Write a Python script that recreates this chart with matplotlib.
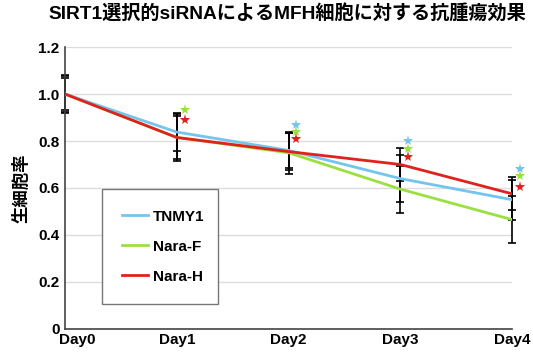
import matplotlib.pyplot as plt
import matplotlib.transforms as mtransforms

plt.rcParams['font.family'] = ['Liberation Sans', 'Noto Sans CJK JP', 'DejaVu Sans']

# data
days = ["Day0", "Day1", "Day2", "Day3", "Day4"]
x = [0, 1, 2, 3, 4]

tnmy1 = [1.0, 0.838, 0.76, 0.64, 0.55]
nara_f = [1.0, 0.815, 0.75, 0.595, 0.465]
nara_h = [1.0, 0.815, 0.755, 0.70, 0.575]

tnmy1_err = [0.075, 0.08, 0.075, 0.10, 0.085]
nara_f_err = [0.07, 0.10, 0.09, 0.10, 0.10]
nara_h_err = [0.08, 0.09, 0.08, 0.07, 0.07]

# significance stars (which series get a star at each day)
star_blue = [None, None, 0.87, 0.80, 0.68]
star_green = [None, 0.93, 0.84, 0.765, 0.65]
star_red = [None, 0.89, 0.81, 0.73, 0.605]

blue = "#74C5EE"
green = "#9BE040"
red = "#E0221E"

fig = plt.figure(figsize=(5.33, 3.54), dpi=100)
ax = fig.add_axes([0.122, 0.071, 0.839, 0.796])

for vals, err in [(tnmy1, tnmy1_err), (nara_f, nara_f_err), (nara_h, nara_h_err)]:
    eb = ax.errorbar(x, vals, yerr=err, fmt="none", ecolor="black", elinewidth=1.2,
                     capsize=3, capthick=1.2, zorder=2)
    for art in eb.get_children():
        art.set_clip_on(False)

ax.plot(x, nara_f, color=green, lw=2.0, label="Nara-F", zorder=3)
ax.plot(x, tnmy1, color=blue, lw=2.0, label="TNMY1", zorder=3)
ax.plot(x, nara_h, color=red, lw=2.0, label="Nara-H", zorder=4)

for stars, c in [(star_blue, blue), (star_green, green), (star_red, red)]:
    for xi, s in zip(x, stars):
        if s is not None:
            ax.plot(xi + 0.07, s, marker="*", color=c, ms=8, mew=0, zorder=5,
                    clip_on=False)

ax.set_xlim(0, 4)
ax.set_ylim(0, 1.2)
ax.set_yticks([0, 0.2, 0.4, 0.6, 0.8, 1.0, 1.2])
ax.set_yticklabels(["0", "0.2", "0.4", "0.6", "0.8", "1.0", "1.2"],
                   fontsize=11, fontweight="bold")
ax.set_xticks(x)
ax.set_xticklabels(days, fontsize=11, fontweight="bold")
ax.tick_params(length=0, pad=4)
ax.tick_params(axis="x", pad=3)

# Day0 label sits a bit to the right in the reference
off = mtransforms.ScaledTranslation(0.12, 0, fig.dpi_scale_trans)
lab0 = ax.get_xticklabels()[0]
lab0.set_transform(lab0.get_transform() + off)

ax.yaxis.grid(True, color="#DDDDDD", lw=1)
ax.set_axisbelow(True)
for side in ["top", "right"]:
    ax.spines[side].set_visible(False)
for side in ["left", "bottom"]:
    ax.spines[side].set_color("#444444")
    ax.spines[side].set_linewidth(1.2)

ax.set_ylabel("生細胞率", fontsize=12.5, fontweight="bold", labelpad=6)
fig.suptitle("SIRT1選択的siRNAによるMFH細胞に対する抗腫瘍効果",
             fontsize=13.8, fontweight="bold", x=0.539, y=0.99)

handles, labels = ax.get_legend_handles_labels()
order = [1, 0, 2]
leg = ax.legend([handles[i] for i in order], [labels[i] for i in order],
                loc="upper left", bbox_to_anchor=(0.191, 0.15, 0.218, 0.316),
                bbox_transform=fig.transFigure, mode="expand",
                fancybox=False, edgecolor="#777777", framealpha=1,
                prop={"weight": "bold", "size": 11}, handlelength=1.7,
                handletextpad=0.3, labelspacing=1.05, borderpad=1.35,
                borderaxespad=0)
leg.get_frame().set_linewidth(1.0)

fig.savefig("out.png", dpi=100)
